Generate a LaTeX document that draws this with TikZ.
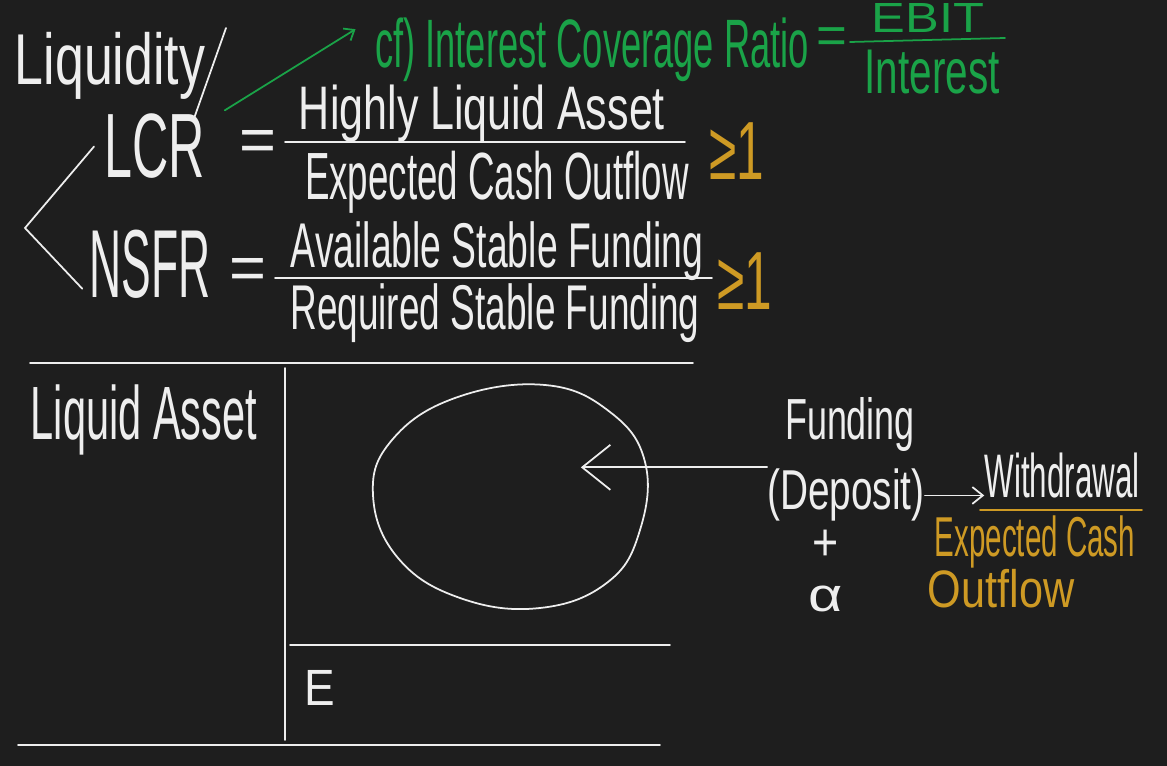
\documentclass[tikz,border=0pt]{standalone}
\usepackage{fontspec}
\setmainfont{Liberation Sans}
\usepackage{tikz}
\usetikzlibrary{arrows.meta, calc}
\definecolor{mybg}{RGB}{30,30,30}
\definecolor{myink}{RGB}{238,238,238}
\definecolor{mygreen}{RGB}{26,163,72}
\definecolor{mygold}{RGB}{206,154,36}
\newcommand{\hw}[1]{\fontsize{#1}{#1}\selectfont}
\tikzset{
  ink/.style={inner sep=0pt, anchor=base, text=myink},
  greenink/.style={inner sep=0pt, anchor=base, text=mygreen},
  goldink/.style={inner sep=0pt, anchor=base, text=mygold},
  inkline/.style={draw=myink, line width=1pt, line cap=round},
  greenline/.style={draw=mygreen, line width=1pt, line cap=round},
  goldline/.style={draw=mygold, line width=1pt, line cap=round},
  barb/.style={-{Straight Barb[length=#1, width=1.6*#1]}},
}
\begin{document}
\begin{tikzpicture}[x=0.02cm, y=-0.02cm]
  \useasboundingbox[fill=mybg] (0,0) rectangle (1167,766);

  % top: liquidity ratios
  \node[ink, font=\hw{41pt}, xscale=0.72] (liq) at (110,85) {Liquidity};
  \node[ink, font=\hw{52pt}, xscale=0.55] (lcr) at (155,178) {LCR};
  \node[ink, font=\hw{55pt}, xscale=0.46] (nsfr) at (150,298) {NSFR};
  \coordinate (slashtop) at (226,28);
  \coordinate (brv) at (25,228);
  \draw[inkline] (slashtop) -- ([xshift=-7pt,yshift=-4pt]lcr.north east);
  \draw[inkline] ([xshift=-6pt]lcr.west) -- (brv) -- ([xshift=-4pt,yshift=6pt]nsfr.south west);

  \node[ink, font=\hw{36pt}] (eqa) at (258,162) {=};
  \node[ink, font=\hw{35pt}, xscale=0.70] (hla) at (482,130) {Highly Liquid Asset};
  \node[ink, font=\hw{38pt}, xscale=0.55] (eco) at (497,200) {Expected Cash Outflow};
  \coordinate (fa1) at (285,142);
  \coordinate (fa2) at (685,142);
  \draw[inkline] (fa1) -- (fa2);
  \node[goldink, font=\hw{47pt}, xscale=0.6] (gea) at (737,180) {≥1};

  \node[ink, font=\hw{36pt}] (eqb) at (248,290) {=};
  \node[ink, font=\hw{36pt}, xscale=0.59] (asf) at (497,268) {Available Stable Funding};
  \node[ink, font=\hw{36pt}, xscale=0.585] (rsf) at (495,330) {Required Stable Funding};
  \coordinate (fb1) at (275,278);
  \coordinate (fb2) at (712,278);
  \draw[inkline] (fb1) -- (fb2);
  \node[goldink, font=\hw{47pt}, xscale=0.6] (geb) at (745,310) {≥1};

  % cf) interest coverage
  \node[greenink, font=\hw{39pt}, xscale=0.53] (icr) at (592,68) {cf) Interest Coverage Ratio};
  \node[greenink, font=\hw{30pt}] (eqc) at (832,54) {=};
  \node[greenink, font=\hw{24pt}, xscale=1.2] (ebit) at (928,33) {EBIT};
  \node[greenink, font=\hw{36pt}, xscale=0.64] (intr) at (932,94) {Interest};
  \coordinate (fc1) at (850,42);
  \coordinate (fc2) at (1005,38);
  \draw[greenline] (fc1) -- (fc2);
  \draw[greenline, barb=5pt] ([xshift=11pt,yshift=2pt]lcr.north east) -- ([xshift=-11pt,yshift=12pt]icr.west);

  % balance sheet
  \draw[inkline] (30,363) -- (693,363);
  \draw[inkline] (285,368) -- (285,740);
  \draw[inkline] (290,645) -- (670,645);
  \draw[inkline] (18,745) -- (660,745);
  \node[ink, font=\hw{43pt}, xscale=0.55] (la) at (144,440) {Liquid Asset};
  \node[ink, font=\hw{29pt}, xscale=0.9] (eq) at (320,705) {E};
  \draw[inkline] plot[smooth cycle, tension=0.7] coordinates {(545,385) (610,412) (645,462) (640,530) (608,582) (540,608) (460,598) (398,558) (373,495) (392,440) (455,398)};

  % funding side
  \node[ink, font=\hw{33pt}, xscale=0.62] (fund) at (850,440) {Funding};
  \node[ink, font=\hw{32pt}, xscale=0.69] (dep) at (846,510) {(Deposit)};
  \node[ink, font=\hw{35pt}, xscale=0.51] (wd) at (1062,498) {Withdrawal};
  \node[ink, font=\hw{30pt}, xscale=0.85] (plus) at (826,561) {+};
  \node[ink, font=\hw{27pt}, xscale=1.25] (alpha) at (826,612) {α};
  \coordinate (tip) at ([xshift=-106pt,yshift=16pt]dep.west);
  \draw[inkline, barb=16pt] ([yshift=16pt]dep.west) -- (tip);
  \draw[inkline, barb=6pt] (dep.east) -- (dep.east -| wd.west);
  \coordinate (fd1) at (980,510);
  \coordinate (fd2) at (1142,510);
  \draw[goldline] (fd1) -- (fd2);
  \node[goldink, font=\hw{32pt}, xscale=0.525] (eco2) at (1035,557) {Expected Cash};
  \node[goldink, font=\hw{30pt}, xscale=0.82] (out2) at (1001,608) {Outflow};
\end{tikzpicture}
\end{document}
